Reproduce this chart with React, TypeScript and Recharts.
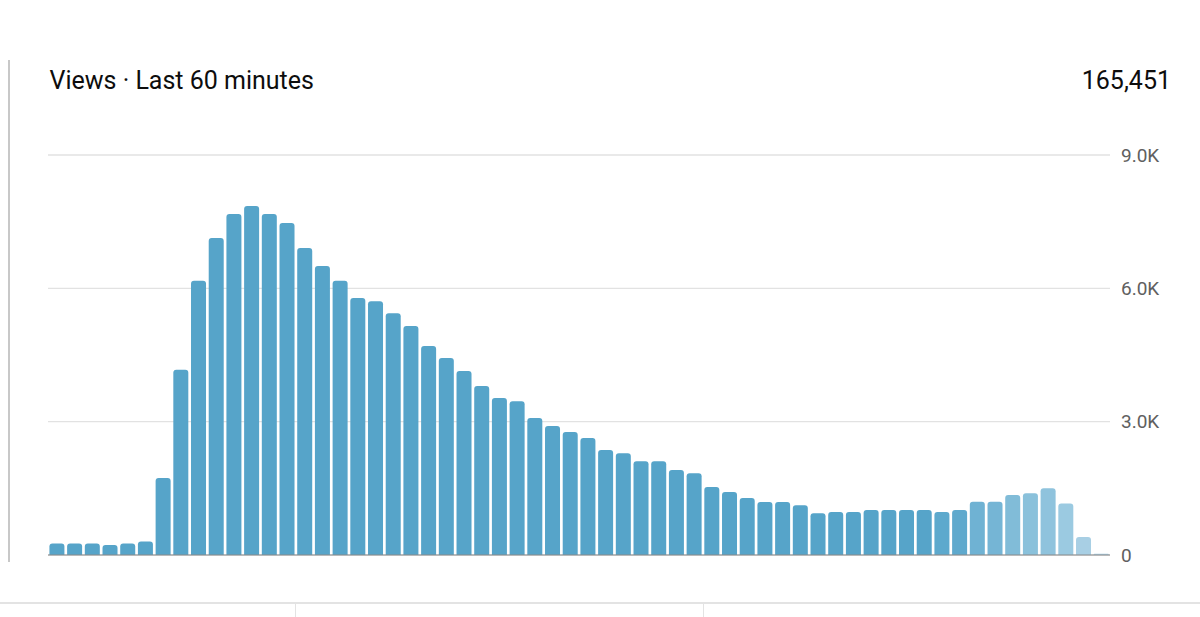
// App.tsx
import { BarChart, Bar, Cell, XAxis, YAxis, CartesianGrid } from 'recharts';

const views = [
  260, 260, 260, 225, 260, 305, 1730, 4170, 6170, 7130,
  7670, 7850, 7670, 7470, 6910, 6500, 6170, 5780, 5710, 5440,
  5150, 4700, 4430, 4140, 3800, 3530, 3460, 3080, 2900, 2770,
  2630, 2360, 2290, 2110, 2110, 1910, 1840, 1530, 1420, 1280,
  1190, 1190, 1120, 940, 970, 970, 1010, 1010, 1010, 1010,
  970, 1010, 1200, 1200, 1350, 1390, 1500, 1160, 405, 30,
];
const yTicks = [0, 3000, 6000, 9000];
const title = 'Views · Last 60 minutes';
const total = '165,451';

// the newest minutes fade out
const fadeColors = ['#5da9cd', '#5fa9cd', '#6fb2d3', '#75b5d5', '#81bcd8', '#8ac1db', '#8fc3dd', '#9bcae1', '#a8cfe4', '#a8cfe4'];
const barColor = '#56a4c9';

const data = views.map((v, i) => ({ minute: String(i + 1), views: v }));

const colorFor = (i: number) => {
  const start = views.length - fadeColors.length;
  return i < start ? barColor : fadeColors[i - start];
};

const formatTick = (v: number) => (v === 0 ? '0' : `${(v / 1000).toFixed(1)}K`);

const abs = (left: number, top: number, width: number, height: number, background: string) => ({
  position: 'absolute' as const, left, top, width, height, background,
});

export default function App() {
  return (
    <div style={{ position: 'relative', width: 1200, height: 617, overflow: 'hidden', background: '#fff', fontFamily: 'Roboto' }}>
      <style>{'body{margin:0;overflow:hidden}'}</style>
      <div style={abs(8, 60, 1.5, 502, '#c8c8c8')} />
      <div style={abs(0, 602, 1200, 1.5, '#e3e3e3')} />
      <div style={abs(294.5, 603, 1.5, 14, '#e3e3e3')} />
      <div style={abs(702.5, 603, 1.5, 14, '#e3e3e3')} />
      <div style={{ position: 'absolute', left: 49.5, top: 67, fontSize: 25, lineHeight: '28px', color: '#0d0d0d' }}>{title}</div>
      <div style={{ position: 'absolute', right: 29, top: 67, fontSize: 25, lineHeight: '28px', color: '#0d0d0d' }}>{total}</div>
      <BarChart
        width={1200}
        height={617}
        data={data}
        margin={{ top: 155, right: 0, bottom: 0, left: 48 }}
        barCategoryGap="8%"
        style={{ position: 'absolute', left: 0, top: 0 }}
      >
        <CartesianGrid horizontal vertical={false} stroke="#e2e2e2" strokeWidth={1.4} />
        <XAxis dataKey="minute" height={62} tick={false} tickLine={false} axisLine={{ stroke: '#8a8a8a', strokeWidth: 1.2 }} />
        <YAxis
          orientation="right"
          width={90}
          domain={[0, 9000]}
          ticks={yTicks}
          tickFormatter={formatTick}
          tickLine={false}
          axisLine={false}
          tickMargin={5}
          tick={{ fill: '#606060', fontSize: 19, fontFamily: 'Roboto' }}
        />
        <Bar dataKey="views" radius={[3, 3, 0, 0]} isAnimationActive={false}>
          {data.map((d, i) => (
            <Cell key={d.minute} fill={colorFor(i)} />
          ))}
        </Bar>
      </BarChart>
    </div>
  );
}
